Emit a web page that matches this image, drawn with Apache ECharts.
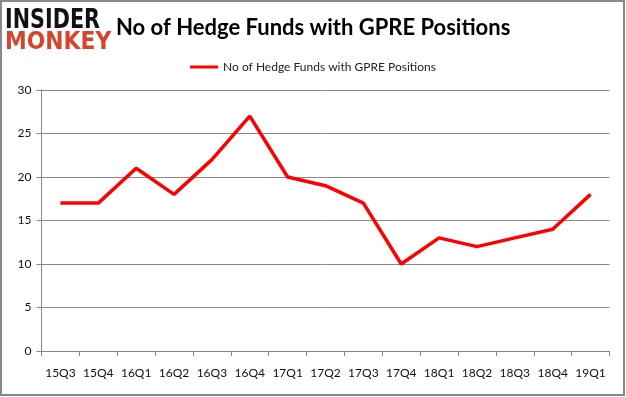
<!DOCTYPE html>
<html>
<head>
<meta charset="utf-8">
<script src="https://cdn.jsdelivr.net/npm/echarts@6/dist/echarts.min.js"></script>
<style>
  html, body { margin: 0; padding: 0; background: #fff; }
  #main { width: 626px; height: 397px; }
</style>
</head>
<body>
<div id="main"></div>
<script>
  var quarters = ['15Q3', '15Q4', '16Q1', '16Q2', '16Q3', '16Q4', '17Q1', '17Q2', '17Q3', '17Q4', '18Q1', '18Q2', '18Q3', '18Q4', '19Q1'];
  var hedgeFunds = [17, 17, 21, 18, 22, 27, 20, 19, 17, 10, 13, 12, 13, 14, 18];
  var seriesName = 'No of Hedge Funds with GPRE Positions';

  var chart = echarts.init(document.getElementById('main'));
  chart.setOption({
    animation: false,
    title: {
      text: 'No of Hedge Funds with GPRE Positions',
      left: 111,
      top: 12,
      textStyle: {
        fontFamily: 'Lato',
        fontWeight: 'bold',
        fontSize: 22,
        color: '#000'
      }
    },
    legend: {
      top: 56,
      left: 'center',
      itemWidth: 28,
      itemHeight: 3,
      icon: 'rect',
      itemGap: 4,
      textStyle: { fontFamily: 'Lato', fontSize: 12, color: '#222' },
      data: [seriesName]
    },
    grid: {
      left: 41.5,
      right: 16.5,
      top: 90,
      bottom: 46
    },
    xAxis: {
      type: 'category',
      data: quarters,
      boundaryGap: true,
      axisLine: { lineStyle: { color: '#888', width: 1 } },
      axisTick: { show: true, length: 5, lineStyle: { color: '#888' } },
      axisLabel: { fontFamily: 'Lato', fontSize: 12, color: '#111', margin: 16, interval: 0 }
    },
    yAxis: {
      type: 'value',
      min: 0,
      max: 30,
      interval: 5,
      axisLine: { show: true, lineStyle: { color: '#888', width: 1 } },
      axisTick: { show: true, length: 5, lineStyle: { color: '#888' } },
      axisLabel: { fontFamily: 'Lato', fontSize: 12, color: '#111', margin: 10 },
      splitLine: { lineStyle: { color: '#888', width: 1 } }
    },
    series: [{
      name: seriesName,
      type: 'line',
      data: hedgeFunds,
      symbol: 'none',
      color: '#ff0000',
      lineStyle: { color: '#ff0000', width: 3.5 }
    }],
    graphic: [
      {
        type: 'rect',
        shape: { x: 1, y: 1, width: 623, height: 394 },
        style: { fill: 'none', stroke: '#888', lineWidth: 2 },
        silent: true
      },
      {
        type: 'text',
        left: 5,
        top: 8,
        scaleX: 0.74,
        scaleY: 0.95,
        style: {
          text: 'INSIDER',
          font: '900 28px "DejaVu Sans"',
          fill: '#111'
        }
      },
      {
        type: 'text',
        left: 5,
        top: 30,
        scaleX: 0.78,
        scaleY: 0.9,
        style: {
          text: 'MONKEY',
          font: '900 28px "DejaVu Sans"',
          fill: '#d8432c'
        }
      }
    ]
  });
</script>
</body>
</html>
